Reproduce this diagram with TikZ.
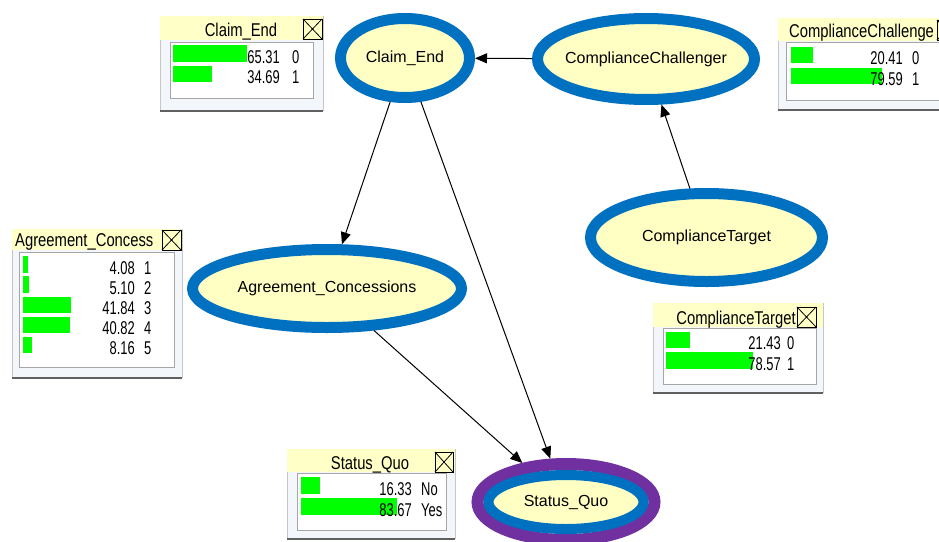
\documentclass[tikz,border=0pt]{standalone}
\usepackage{fontspec}
\setmainfont{Liberation Sans}
\newfontfamily\monnum[FakeStretch=0.7]{Liberation Sans}
\newfontfamily\montitle[FakeStretch=0.8]{Liberation Sans}
\usetikzlibrary{shapes.geometric,arrows.meta}
\definecolor{nblue}{RGB}{0,112,192}
\definecolor{npurple}{RGB}{112,48,160}
\definecolor{nyellow}{RGB}{255,255,196}
\definecolor{hdr}{RGB}{255,255,200}
\definecolor{monbg}{RGB}{243,246,251}
\definecolor{bargreen}{RGB}{0,255,0}
\newcommand\monframe[5]{%
  \fill[monbg] (#1,#2) rectangle (#3,#4);
  \draw[gray!45, line width=1pt] (#1,#4) -- (#1,#2);
  \draw[gray!45, line width=1pt] (#3,#2) -- (#3,#4);
  \draw[gray!75!black, line width=2pt] (#1,#4) -- (#3,#4);
  \fill[hdr] (#1,#2) rectangle (#3,#5);
}
\newcommand\monx[4]{%
  \draw[xbox] (#1,#2) rectangle (#3,#4);
  \draw[line width=0.8pt] (#1,#2) -- (#3,#4) (#1,#4) -- (#3,#2);
}
\begin{document}
\begin{tikzpicture}[x=1pt,y=-1pt,
  bnode/.style={ellipse, draw=nblue, line width=11pt, fill=nyellow, inner sep=0pt, outer sep=5.5pt},
  etext/.style={font=\fontsize{16}{16}\selectfont, inner sep=0pt},
  link/.style={line width=1pt, -{Triangle[length=12pt,width=10pt]}},
  numt/.style={font=\monnum\fontsize{18.5}{18.5}\selectfont, inner sep=0pt, anchor=base east},
  statet/.style={font=\monnum\fontsize{18.5}{18.5}\selectfont, inner sep=0pt, anchor=base west},
  titlet/.style={font=\montitle\fontsize{18.5}{18.5}\selectfont, inner sep=0pt, anchor=base},
  bar/.style={fill=bargreen},
  panel/.style={fill=white, draw=gray!70, line width=1pt},
  xbox/.style={draw=black, fill=hdr, line width=1pt}
]
\useasboundingbox (0,0) rectangle (939,541);
\fill[white] (0,0) rectangle (939,541);

% Claim_End monitor
\monframe{160}{16}{323}{111}{40}
\node[titlet] (mce-title) at (241,36) {Claim\_End};
\monx{303}{19}{322}{39}
\draw[panel] (170,42) rectangle (313,98);
\fill[bar] (173,45) rectangle (247,62);
\fill[bar] (173,66) rectangle (212,82);
\node[numt] (mce-n1) at (280,63) {65.31};
\node[statet] (mce-s1) at (292,63) {0};
\node[numt] (mce-n2) at (280,83) {34.69};
\node[statet] (mce-s2) at (292,83) {1};

% ComplianceChallenger monitor
\monframe{778}{18}{960}{110}{41}
\node[titlet, anchor=base west] (mcc-title) at (789,37) {ComplianceChallenge};
\monx{937}{20}{956}{40}
\draw[panel] (786,42) rectangle (965,100);
\fill[bar] (791,47) rectangle (813,63);
\fill[bar] (791,68) rectangle (882,84);
\node[numt] (mcc-n1) at (903,64) {20.41};
\node[statet] (mcc-s1) at (912,64) {0};
\node[numt] (mcc-n2) at (903,85) {79.59};
\node[statet] (mcc-s2) at (912,85) {1};

% Agreement_Concessions monitor
\monframe{12}{229}{182}{378}{250}
\node[titlet, anchor=base west] (mac-title) at (15,246) {Agreement\_Concess};
\monx{162}{230}{181}{250}
\draw[panel] (19,252) rectangle (174,367);
\fill[bar] (23,256) rectangle (27.7,273);
\fill[bar] (23,276) rectangle (28.9,293);
\fill[bar] (23,297) rectangle (71.1,313);
\fill[bar] (23,317) rectangle (69.9,333);
\fill[bar] (23,337) rectangle (32.4,353);
\node[numt] (mac-n1) at (135,274) {4.08};
\node[statet] (mac-s1) at (144,274) {1};
\node[numt] (mac-n2) at (135,294) {5.10};
\node[statet] (mac-s2) at (144,294) {2};
\node[numt] (mac-n3) at (135,314) {41.84};
\node[statet] (mac-s3) at (144,314) {3};
\node[numt] (mac-n4) at (135,334) {40.82};
\node[statet] (mac-s4) at (144,334) {4};
\node[numt] (mac-n5) at (135,354) {8.16};
\node[statet] (mac-s5) at (144,354) {5};

% ComplianceTarget monitor
\monframe{653}{303}{823}{393}{327}
\node[titlet] (mct-title) at (736,324) {ComplianceTarget};
\monx{797}{307}{816}{327}
\draw[panel] (663,328) rectangle (816,384);
\fill[bar] (666,332) rectangle (690,348);
\fill[bar] (666,352) rectangle (753,369);
\node[numt] (mct-n1) at (781,349) {21.43};
\node[statet] (mct-s1) at (787,349) {0};
\node[numt] (mct-n2) at (781,370) {78.57};
\node[statet] (mct-s2) at (787,370) {1};

% Status_Quo monitor
\monframe{287}{449}{455}{539}{472}
\node[titlet] (msq-title) at (370,469) {Status\_Quo};
\monx{435}{452}{453}{472}
\draw[panel] (297,473) rectangle (446,530);
\fill[bar] (301,477) rectangle (320,494);
\fill[bar] (301,498) rectangle (397,515);
\node[numt] (msq-n1) at (412,495) {16.33};
\node[statet] (msq-s1) at (421,495) {No};
\node[numt] (msq-n2) at (412,516) {83.67};
\node[statet] (msq-s2) at (421,516) {Yes};

% network nodes
\node[bnode, minimum width=129pt, minimum height=79pt] (ce) at (405,58) {};
\node[etext] (ce-t) at (ce.center) {Claim\_End};
\node[bnode, minimum width=217pt, minimum height=81pt] (cc) at (646,59) {};
\node[etext] (cc-t) at (cc.center) {ComplianceChallenger};
\node[bnode, minimum width=232pt, minimum height=88pt] (ct) at (706.5,237.5) {};
\node[etext] (ct-t) at (ct.center) {ComplianceTarget};
\node[bnode, minimum width=269pt, minimum height=78pt] (ac) at (327,288.5) {};
\node[etext] (ac-t) at (ac.center) {Agreement\_Concessions};
\node[ellipse, draw=npurple, line width=12pt, fill=nyellow, inner sep=0pt, outer sep=6pt,
      minimum width=177pt, minimum height=76pt] (sq) at (566,502) {};
\draw[nblue, line width=10pt] (sq.center) ellipse [x radius=77.5pt, y radius=27pt];
\node[etext] (sq-t) at (sq.center) {Status\_Quo};

% links
\draw[link] (cc) -- (ce);
\draw[link] (ct) -- (cc);
\draw[link] (ce) -- (ac);
\draw[link] (ce) -- (sq);
\draw[link] (ac) -- (sq);
\end{tikzpicture}
\end{document}
